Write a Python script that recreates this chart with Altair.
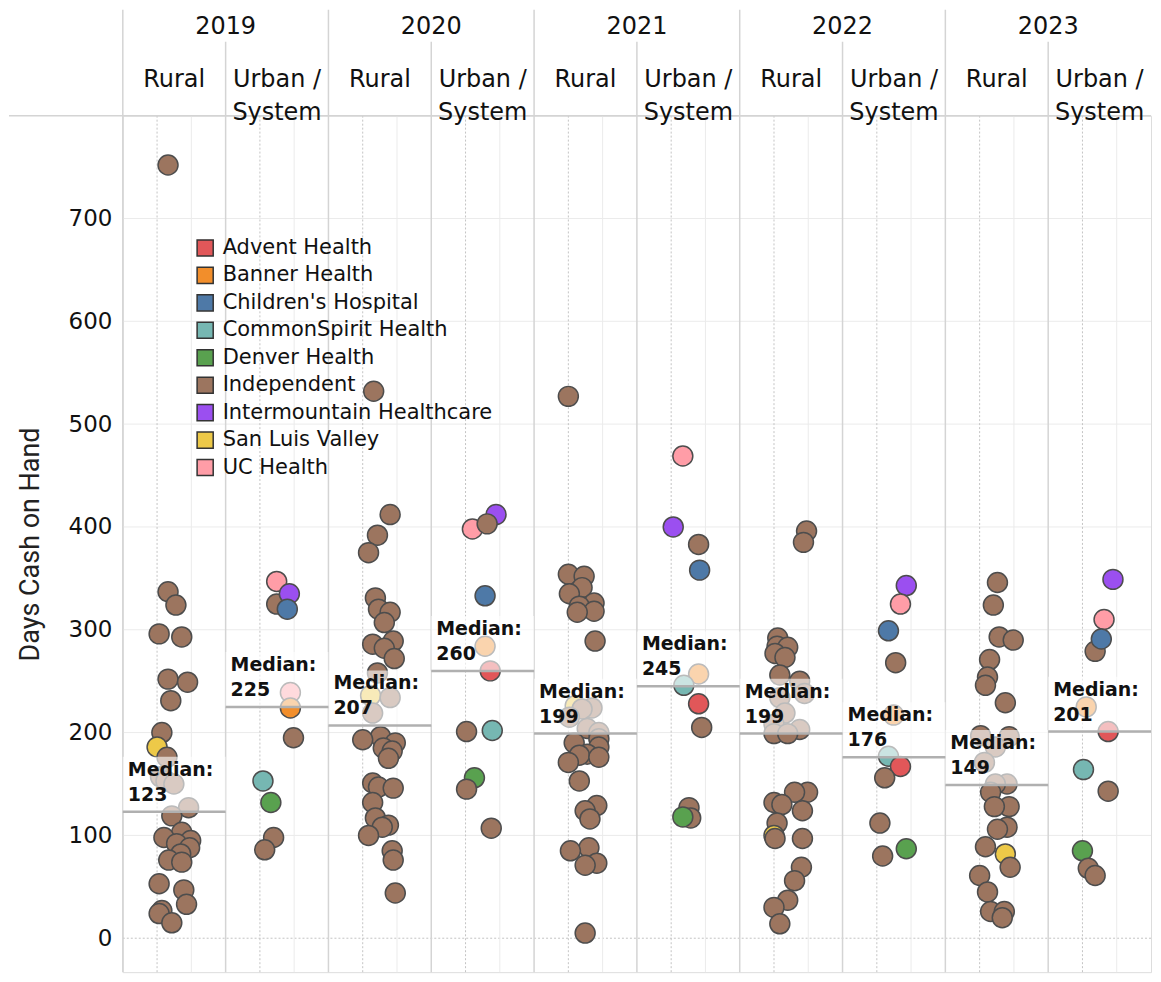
import altair as alt
import pandas as pd

YEARS = [2019, 2020, 2021, 2022, 2023]
TYPES = ["Rural", "Urban / System"]
TYPE_HEADERS = ["Rural", "Urban /\nSystem"]
SYSTEMS = ["Advent Health", "Banner Health", "Children's Hospital", "CommonSpirit Health",
           "Denver Health", "Independent", "Intermountain Healthcare", "San Luis Valley", "UC Health"]
COLORS = ["#e15759", "#f28e2b", "#4e79a7", "#76b7b2", "#59a14f", "#9c755f", "#9b4ff0", "#edc948", "#ff9da7"]
CODES = {"A": "Advent Health", "B": "Banner Health", "C": "Children's Hospital", "S": "CommonSpirit Health",
         "D": "Denver Health", "I": "Independent", "M": "Intermountain Healthcare", "L": "San Luis Valley",
         "U": "UC Health"}

# median per column (2019 Rural, 2019 Urban, 2020 Rural, ...)
MEDIANS = [123, 225, 207, 260, 199, 245, 199, 176, 149, 201]

rural_2019_days = [752, 337, 324, 296, 293, 252, 249, 231, 200, 186, 176, 157, 153, 150, 127, 119, 103, 98, 95, 92,
                   88, 82, 76, 74, 53, 47, 33, 27, 24, 15]
rural_2019_jitter = [0.32, 0.32, 0.55, 0.06, 0.72, 0.32, 0.89, 0.40, 0.14, 0.0, 0.29, 0.10, 0.26, 0.49, 0.92, 0.43,
                     0.72, 0.20, 0.98, 0.57, 0.95, 0.69, 0.34, 0.72, 0.06, 0.78, 0.86, 0.14, 0.06, 0.43]
rural_2019_sys = ["I"] * 9 + ["L"] + ["I"] * 20

urban_2019_days = [347, 325, 335, 320, 239, 224, 195, 153, 132, 98, 86]
urban_2019_jitter = [0.49, 0.49, 0.86, 0.80, 0.89, 0.89, 0.98, 0.09, 0.32, 0.40, 0.14]
urban_2019_sys = ["U", "I", "M", "C", "U", "B", "I", "S", "D", "I", "I"]

rural_2020_days = [532, 412, 392, 375, 331, 320, 317, 307, 289, 286, 282, 272, 258, 236, 234, 219, 196, 193, 190,
                   185, 182, 175, 151, 147, 146, 132, 117, 110, 108, 100, 85, 76, 44]
rural_2020_jitter = [0.32, 0.80, 0.43, 0.17, 0.37, 0.46, 0.80, 0.63, 0.89, 0.29, 0.63, 0.92, 0.43, 0.23, 0.80, 0.29,
                     0.52, 0.0, 0.95, 0.60, 0.86, 0.75, 0.29, 0.46, 0.89, 0.29, 0.37, 0.75, 0.57, 0.17, 0.86, 0.89,
                     0.95]
rural_2020_sys = ["I"] * 13 + ["L"] + ["I"] * 19

urban_2020_days = [412, 398, 403, 333, 284, 260, 202, 201, 156, 145, 107]
urban_2020_jitter = [0.89, 0.20, 0.63, 0.57, 0.57, 0.72, 0.78, 0.03, 0.26, 0.03, 0.75]
urban_2020_sys = ["M", "U", "I", "C", "B", "A", "S", "I", "D", "I", "I"]

rural_2021_days = [527, 354, 352, 341, 335, 326, 323, 318, 317, 289, 226, 224, 223, 215, 204, 200, 194, 190, 186,
                   179, 178, 176, 171, 153, 129, 124, 116, 88, 85, 73, 71, 5]
rural_2021_jitter = [0.0, 0.0, 0.46, 0.40, 0.03, 0.75, 0.32, 0.75, 0.26, 0.78, 0.20, 0.69, 0.40, 0.03, 0.55, 0.89,
                     0.89, 0.17, 0.89, 0.55, 0.32, 0.89, 0.0, 0.32, 0.83, 0.49, 0.63, 0.60, 0.06, 0.83, 0.49, 0.49]
rural_2021_sys = ["I"] * 10 + ["L"] + ["I"] * 21

urban_2021_days = [469, 400, 383, 358, 257, 246, 228, 205, 127, 117, 118]
urban_2021_jitter = [0.34, 0.06, 0.80, 0.83, 0.80, 0.37, 0.80, 0.89, 0.52, 0.57, 0.34]
urban_2021_sys = ["U", "M", "I", "C", "B", "S", "A", "I", "I", "I", "D"]

rural_2022_days = [396, 385, 292, 284, 283, 277, 273, 256, 250, 238, 234, 219, 208, 203, 199, 199, 142, 142, 132,
                   130, 124, 112, 100, 97, 97, 69, 56, 37, 30, 14]
rural_2022_jitter = [0.95, 0.86, 0.11, 0.09, 0.40, 0.03, 0.32, 0.17, 0.75, 0.89, 0.17, 0.32, 0.0, 0.75, 0.0, 0.40,
                     0.98, 0.60, 0.0, 0.23, 0.83, 0.09, 0.0, 0.03, 0.83, 0.80, 0.60, 0.40, 0.0, 0.17]
rural_2022_sys = ["I"] * 22 + ["L"] + ["I"] * 7

urban_2022_days = [343, 325, 299, 268, 217, 177, 167, 156, 112, 87, 80]
urban_2022_jitter = [0.86, 0.69, 0.34, 0.55, 0.49, 0.34, 0.69, 0.23, 0.09, 0.86, 0.17]
urban_2022_sys = ["M", "U", "C", "I", "B", "S", "A", "I", "I", "D", "I"]

rural_2023_days = [346, 324, 293, 290, 271, 254, 246, 229, 197, 196, 186, 171, 150, 150, 142, 128, 128, 108, 106,
                   89, 82, 69, 61, 45, 26, 26, 20]
rural_2023_jitter = [0.52, 0.40, 0.57, 0.98, 0.29, 0.23, 0.17, 0.75, 0.03, 0.86, 0.46, 0.14, 0.80, 0.46, 0.32, 0.86,
                     0.43, 0.80, 0.52, 0.17, 0.75, 0.89, 0.0, 0.23, 0.32, 0.72, 0.66]
rural_2023_sys = ["I"] * 20 + ["L"] + ["I"] * 6

urban_2023_days = [349, 310, 279, 291, 225, 201, 164, 143, 85, 68, 61]
urban_2023_jitter = [0.89, 0.63, 0.37, 0.55, 0.11, 0.75, 0.03, 0.75, 0.0, 0.17, 0.37]
urban_2023_sys = ["M", "U", "I", "C", "B", "A", "S", "I", "D", "I", "I"]

GROUPS = [
    (rural_2019_days, rural_2019_jitter, rural_2019_sys),
    (urban_2019_days, urban_2019_jitter, urban_2019_sys),
    (rural_2020_days, rural_2020_jitter, rural_2020_sys),
    (urban_2020_days, urban_2020_jitter, urban_2020_sys),
    (rural_2021_days, rural_2021_jitter, rural_2021_sys),
    (urban_2021_days, urban_2021_jitter, urban_2021_sys),
    (rural_2022_days, rural_2022_jitter, rural_2022_sys),
    (urban_2022_days, urban_2022_jitter, urban_2022_sys),
    (rural_2023_days, rural_2023_jitter, rural_2023_sys),
    (urban_2023_days, urban_2023_jitter, urban_2023_sys),
]

W = 1030
H = 858
Y_DOMAIN = [-33, 800]
FONT = "DejaVu Sans"

rows = []
for col, (days, jit, sys) in enumerate(GROUPS):
    year = YEARS[col // 2]
    typ = TYPES[col % 2]
    for d, j, s in zip(days, jit, sys):
        rows.append({"year": year, "type": typ, "xpos": 3 * col + 1 + j, "days": d, "system": CODES[s]})
points_df = pd.DataFrame(rows)

med_df = pd.DataFrame({
    "c0": [3 * c for c in range(10)],
    "c1": [3 * c + 3 for c in range(10)],
    "median": MEDIANS,
    "label": [str(m) for m in MEDIANS],
})

xs = alt.Scale(domain=[0, 30], nice=False, zero=False)
ys = alt.Scale(domain=Y_DOMAIN, nice=False, zero=False)
Y_AXIS = alt.Axis(
    values=[0, 100, 200, 300, 400, 500, 600, 700], grid=False, ticks=False, domain=False,
    labelFont=FONT, labelFontSize=23, labelColor="#111", labelPadding=11,
    title="Days Cash on Hand", titleFont="Roboto", titleFontSize=27, titleFontWeight="normal",
    titleColor="#222", titlePadding=24)


def yenc(field):
    return alt.Y(field, type="quantitative", scale=ys, axis=Y_AXIS, title="Days Cash on Hand")


# grid / structure
dot_x = pd.DataFrame({"x": [3 * c + 1 for c in range(10)]})
light_x = pd.DataFrame({"x": [3 * c + 2 for c in range(10)]})
dot_lines = alt.Chart(dot_x).mark_rule(color="#c4c4c4", strokeWidth=1, strokeDash=[2, 2]).encode(
    x=alt.X("x:Q", scale=xs, axis=None), y=alt.value(0), y2=alt.value(H))
light_lines = alt.Chart(light_x).mark_rule(color="#ebebeb", strokeWidth=1).encode(
    x=alt.X("x:Q", scale=xs, axis=None), y=alt.value(0), y2=alt.value(H))

hgrid = pd.DataFrame({"gy": [100, 200, 300, 400, 500, 600, 700]})
hgrid_lines = alt.Chart(hgrid).mark_rule(color="#ebebeb", strokeWidth=1).encode(
    y=yenc("gy"), x=alt.value(0), x2=alt.value(W))
zero_line = alt.Chart(pd.DataFrame({"gy": [0]})).mark_rule(color="#c4c4c4", strokeWidth=1, strokeDash=[2, 2]).encode(
    y=yenc("gy"), x=alt.value(0), x2=alt.value(W))

year_sep = alt.Chart(pd.DataFrame({"x": [6 * i for i in range(5)]})).mark_rule(color="#d4d4d4", strokeWidth=1.5).encode(
    x=alt.X("x:Q", scale=xs, axis=None), y=alt.value(-106), y2=alt.value(H))
type_sep = alt.Chart(pd.DataFrame({"x": [6 * i + 3 for i in range(5)]})).mark_rule(color="#d4d4d4", strokeWidth=1.5).encode(
    x=alt.X("x:Q", scale=xs, axis=None), y=alt.value(-74), y2=alt.value(H))
header_line = alt.Chart(pd.DataFrame({"a": [0]})).mark_rule(color="#d4d4d4", strokeWidth=1.5).encode(
    x=alt.value(-114), x2=alt.value(W), y=alt.value(0))

year_hdr = alt.Chart(pd.DataFrame({"x": [6 * i + 3 for i in range(5)], "t": [str(y) for y in YEARS]})).mark_text(
    font=FONT, fontSize=24, color="#111", baseline="middle", align="center").encode(
    x=alt.X("x:Q", scale=xs, axis=None), y=alt.value(-89), text="t:N")
type_hdr = alt.Chart(pd.DataFrame({"x": [3 * c + 1.5 for c in range(10)],
                                   "t": [TYPE_HEADERS[c % 2] for c in range(10)]})).mark_text(
    font=FONT, fontSize=24, color="#111", baseline="middle", align="center", lineBreak="\n", lineHeight=33).encode(
    x=alt.X("x:Q", scale=xs, axis=None), y=alt.value(-36), text="t:N")

pts = alt.Chart(points_df).mark_circle(size=400, stroke="#4d4d4d", strokeWidth=1.5, opacity=1).encode(
    x=alt.X("xpos:Q", scale=xs, axis=None),
    y=yenc("days"),
    color=alt.Color("system:N", scale=alt.Scale(domain=SYSTEMS, range=COLORS), legend=alt.Legend(
        title=None, orient="none", legendX=72, legendY=122, symbolType="square", symbolSize=260,
        symbolStrokeColor="#333", symbolStrokeWidth=1.5, symbolOpacity=1, labelFont=FONT, labelFontSize=21,
        labelColor="#111", labelOffset=7, rowPadding=4.5, labelLimit=400, padding=0)),
)

box = alt.Chart(med_df).mark_rect(fill="white", opacity=0.62, y2Offset=-55).encode(
    x=alt.X("c0:Q", scale=xs, axis=None), x2="c1:Q",
    y=yenc("median"), y2="median:Q")
med_rule = alt.Chart(med_df).mark_rule(color="#b0b0b0", strokeWidth=2.5).encode(
    x=alt.X("c0:Q", scale=xs, axis=None), x2="c1:Q",
    y=yenc("median"))
med_t1 = alt.Chart(med_df).mark_text(font=FONT, fontSize=19, fontWeight="bold", color="#111", align="left",
                                     baseline="middle", dx=5, dy=-42, text="Median:").encode(
    x=alt.X("c0:Q", scale=xs, axis=None), y=yenc("median"))
med_t2 = alt.Chart(med_df).mark_text(font=FONT, fontSize=19, fontWeight="bold", color="#111", align="left",
                                     baseline="middle", dx=5, dy=-17).encode(
    x=alt.X("c0:Q", scale=xs, axis=None), y=yenc("median"), text="label:N")

chart = alt.layer(
    hgrid_lines, zero_line, light_lines, dot_lines, year_sep, type_sep, header_line,
    pts, box, med_rule, med_t1, med_t2, year_hdr, type_hdr
).properties(width=W, height=H, padding=0).configure_view(stroke=None).configure(background="white")

chart.save("out.html", embed_options={"renderer": "svg", "actions": False})
